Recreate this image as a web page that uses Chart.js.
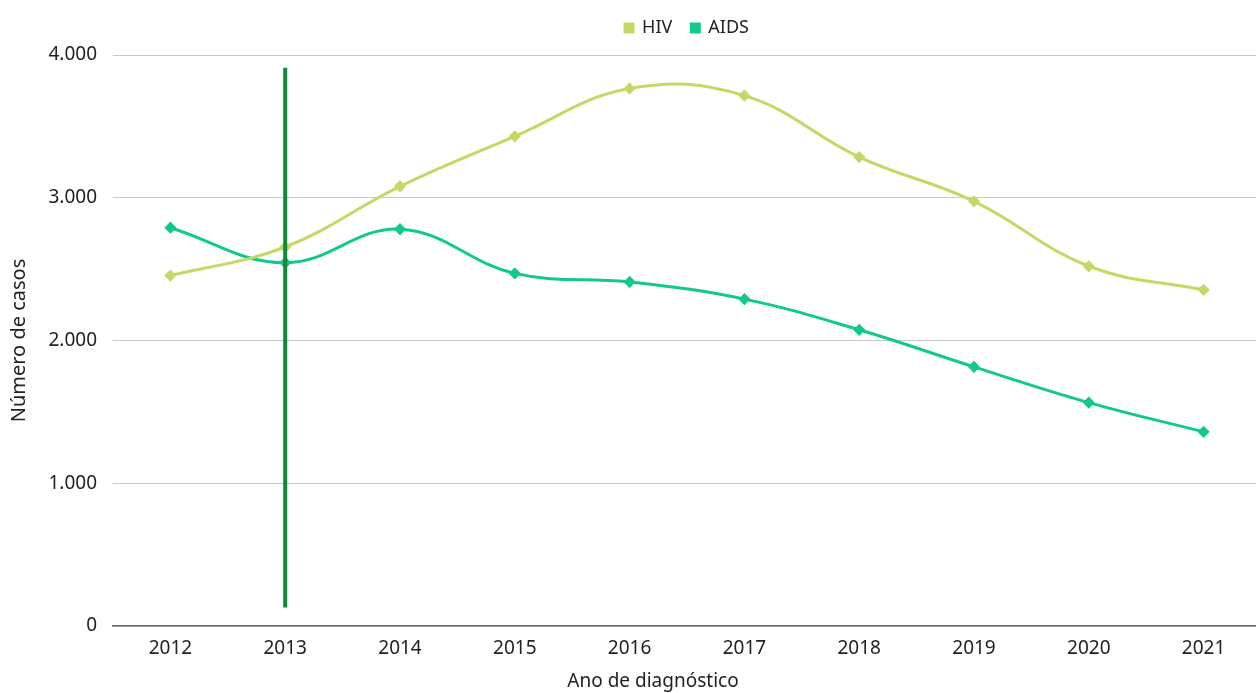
<!DOCTYPE html>
<html>
<head>
<meta charset="utf-8">
<script src="https://cdn.jsdelivr.net/npm/chart.js@4"></script>
<style>
  html, body { margin: 0; padding: 0; background: #fff; overflow: hidden; }
  #wrap { width: 1268px; height: 693px; }
</style>
</head>
<body>
<div id="wrap"><canvas id="myChart"></canvas></div>
<script>
const ctx = document.getElementById('myChart');

// values
const years = ['2012', '2013', '2014', '2015', '2016', '2017', '2018', '2019', '2020', '2021'];
const hivCases = [2455, 2655, 3080, 3430, 3765, 3715, 3285, 2975, 2520, 2355];
const aidsCases = [2790, 2545, 2780, 2470, 2410, 2290, 2075, 1815, 1565, 1360];
const yTicks = [0, 1000, 2000, 3000, 4000];
const xTitle = 'Ano de diagnóstico';

// vertical marker line at 2013
const markerYear = '2013';
const markerFrom = 130;
const markerTo = 3910;

const fontFamily = '"Noto Sans", "DejaVu Sans", sans-serif';

const markerLine = {
  id: 'markerLine',
  afterDatasetsDraw(chart) {
    const x = chart.scales.x.getPixelForValue(years.indexOf(markerYear));
    const y1 = chart.scales.y.getPixelForValue(markerFrom);
    const y2 = chart.scales.y.getPixelForValue(markerTo);
    const c = chart.ctx;
    c.save();
    c.strokeStyle = '#108a3a';
    c.lineWidth = 4;
    c.beginPath();
    c.moveTo(x, y1);
    c.lineTo(x, y2);
    c.stroke();
    c.restore();
  }
};

// x axis title, sits a bit left of the plot centre like in the original
const xTitlePlugin = {
  id: 'xTitlePlugin',
  afterDraw(chart) {
    const a = chart.chartArea;
    const c = chart.ctx;
    c.save();
    c.fillStyle = '#222';
    c.font = '19px ' + fontFamily;
    c.textAlign = 'center';
    c.textBaseline = 'middle';
    c.fillText(xTitle, (a.left + a.right) / 2 - 34, 682);
    c.restore();
  }
};

// extra gap under the legend
const legendGap = {
  id: 'legendGap',
  beforeUpdate(chart) {
    const legend = chart.legend;
    if (legend && !legend._gapPatched) {
      const fit = legend.fit;
      legend.fit = function () {
        fit.call(this);
        this.height += 8;
      };
      legend._gapPatched = true;
    }
  }
};

const data = {
  labels: years,
  datasets: [{
    label: 'HIV',
    data: hivCases,
    borderColor: '#c3d964',
    backgroundColor: '#c3d964',
    borderWidth: 3,
    pointStyle: 'rectRot',
    pointRadius: 4,
    tension: 0.4,
    fill: false
  }, {
    label: 'AIDS',
    data: aidsCases,
    borderColor: '#13c88b',
    backgroundColor: '#13c88b',
    borderWidth: 3,
    pointStyle: 'rectRot',
    pointRadius: 4,
    tension: 0.4,
    fill: false
  }]
};

const config = {
  type: 'line',
  data: data,
  plugins: [markerLine, xTitlePlugin, legendGap],
  options: {
    responsive: true,
    maintainAspectRatio: false,
    animation: false,
    layout: { padding: { top: 0, right: 0, bottom: 0, left: 0 } },
    plugins: {
      legend: {
        position: 'top',
        align: 'center',
        fullSize: false,
        labels: {
          usePointStyle: true,
          pointStyle: 'rect',
          boxWidth: 8,
          boxHeight: 8,
          padding: 19,
          color: '#222',
          font: { family: fontFamily, size: 18 }
        }
      },
      tooltip: { enabled: false }
    },
    scales: {
      x: {
        offset: true,
        grid: { display: false, drawTicks: false },
        border: { color: '#666', width: 1.5 },
        ticks: { color: '#222', padding: 11, font: { family: fontFamily, size: 19 } },
        afterFit: s => { s.height = 67; }
      },
      y: {
        min: 0,
        max: 4000,
        afterBuildTicks: s => { s.ticks = yTicks.map(v => ({ value: v })); },
        grid: { color: '#c8c8c8', drawTicks: false },
        border: { display: false },
        ticks: {
          color: '#222',
          padding: 16,
          font: { family: fontFamily, size: 19 },
          callback: v => v.toLocaleString('de-DE')
        },
        title: { display: true, text: 'Número de casos', color: '#222', padding: { top: 7, bottom: 0 }, font: { family: fontFamily, size: 20 } },
        afterFit: s => { s.width = 113; }
      }
    }
  }
};

const lineChart = new Chart(ctx, config);
</script>
</body>
</html>
